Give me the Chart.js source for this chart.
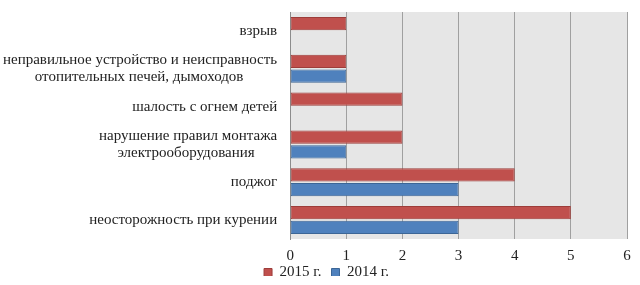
<!DOCTYPE html>
<html lang="ru">
<head>
  <meta charset="UTF-8" />
  <title>Причины пожаров</title>
  <script src="https://cdn.jsdelivr.net/npm/chart.js"></script>
  <style>
    html, body { margin: 0; padding: 0; background: #fff; }
    .chart-box { width: 640px; height: 285px; }
  </style>
</head>
<body>
  <div class="chart-box">
    <canvas id="fireChart"></canvas>
  </div>

  <script>
    // causes, top to bottom (short second lines padded so they sit centred under the first)
    const causes = [
      "взрыв",
      ["неправильное устройство и неисправность", "отопительных печей, дымоходов\u00a0\u00a0\u00a0\u00a0\u00a0\u00a0\u00a0\u00a0\u00a0"],
      "шалость с огнем детей",
      ["нарушение правил монтажа", "электрооборудования\u00a0\u00a0\u00a0\u00a0\u00a0\u00a0"],
      "поджог",
      "неосторожность при курении"
    ];
    const values2015 = [1, 1, 2, 2, 4, 5];
    const values2014 = [0, 1, 0, 1, 3, 3];
    const xTicks = [0, 1, 2, 3, 4, 5, 6];

    const serif = "'Liberation Serif', 'Times New Roman', serif";

    // grey plot background like the office chart
    const plotBg = {
      id: "plotBg",
      beforeDraw(chart) {
        const { ctx, chartArea: a } = chart;
        ctx.save();
        ctx.fillStyle = "#e6e6e6";
        ctx.fillRect(a.left, a.top, a.right - a.left, a.bottom - a.top);
        ctx.restore();
      }
    };

    // pull the legend up under the tick labels and a bit right, as in the original
    const legendNudge = {
      id: "legendNudge",
      afterLayout(chart) {
        const lg = chart.legend;
        lg.top -= 18; lg.bottom -= 18;
        lg.left += 18; lg.right += 18;
      }
    };

    new Chart(document.getElementById("fireChart"), {
      type: "bar",
      data: {
        labels: causes,
        datasets: [
          {
            label: "2015 г.",
            data: values2015,
            backgroundColor: "#c0504d",
            borderColor: "#9d3d3a",
            borderWidth: 1,
            borderSkipped: false
          },
          {
            label: "2014 г.",
            data: values2014,
            backgroundColor: "#4f81bd",
            borderColor: "#3c6696",
            borderWidth: 1,
            borderSkipped: false
          }
        ]
      },
      plugins: [plotBg, legendNudge],
      options: {
        indexAxis: "y",
        responsive: true,
        maintainAspectRatio: false,
        animation: false,
        categoryPercentage: 0.78,
        barPercentage: 0.9,
        layout: { padding: { left: -10, right: 13, top: 12, bottom: -9 } },
        scales: {
          x: {
            min: xTicks[0],
            max: xTicks[xTicks.length - 1],
            afterBuildTicks(scale) {
              scale.ticks = xTicks.map(v => ({ value: v }));
            },
            afterFit(scale) {
              scale.paddingLeft = 0;
              scale.paddingRight = 0;
            },
            grid: { color: "#a0a0a0", lineWidth: 1, drawTicks: false },
            border: { display: false },
            ticks: {
              color: "#222",
              padding: 8,
              font: { family: serif, size: 15 }
            }
          },
          y: {
            afterFit(scale) {
              scale.paddingTop = 0;
              scale.paddingBottom = 0;
            },
            grid: { display: false, drawTicks: false },
            border: { display: true, color: "#8c8c8c" },
            ticks: {
              autoSkip: false,
              color: "#222",
              padding: 13,
              font: { family: serif, size: 15, lineHeight: 1.1 }
            }
          }
        },
        plugins: {
          legend: {
            position: "bottom",
            maxHeight: 21,
            labels: {
              boxWidth: 8,
              boxHeight: 8,
              padding: 10,
              color: "#222",
              font: { family: serif, size: 15 }
            }
          },
          tooltip: { enabled: false }
        }
      }
    });
  </script>
</body>
</html>
